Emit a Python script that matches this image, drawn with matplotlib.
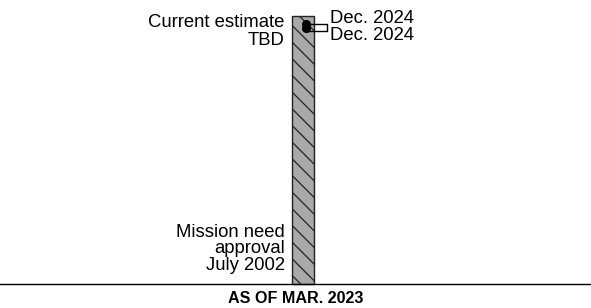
import matplotlib.pyplot as plt
import matplotlib.transforms as mtransforms

plt.rcParams['font.family'] = ['Liberation Sans', 'DejaVu Sans']
plt.rcParams['hatch.linewidth'] = 0.9

# timeline values (decimal years)
start_year = 2002.54          # mission need approval, July 2002
end_year = 2024.92            # current estimate, Dec. 2024
dot_years = [2024.92, 2024.92]
start_labels = ["Mission need", "approval", "July 2002"]
end_labels = ["Current estimate", "TBD"]
dot_labels = ["Dec. 2024", "Dec. 2024"]
title = "AS OF MAR. 2023"

W, H = 591, 308
fig = plt.figure(figsize=(W / 100, H / 100), dpi=100)
ax = fig.add_axes([0, 1 - 283.5 / H, 1, 267.5 / H])
ax.set_xlim(0, W)
ax.set_ylim(start_year, end_year)
ax.axis("off")

# bar for the schedule span
ax.bar(302.5, end_year - start_year, bottom=start_year, width=22,
       color="#a9a9a9", edgecolor="#222222", hatch="\\\\", linewidth=1.0,
       clip_on=False)

# baseline
ax.axhline(start_year, color="black", linewidth=1.0, clip_on=False)

# estimate dots (drawn slightly below the top edge)
for yr, dy in zip(dot_years, [-8, -12]):
    tr = mtransforms.offset_copy(ax.transData, fig=fig, x=3.5 * 0.72, y=dy * 0.72, units="points")
    ax.plot([302.5], [yr], "o", color="black", markersize=5.5, transform=tr, clip_on=False)

# bracket connecting dots to labels
fig.add_artist(plt.Line2D([308 / W, 327 / W, 327 / W, 308 / W],
                          [1 - 23.5 / H, 1 - 23.5 / H, 1 - 30.5 / H, 1 - 30.5 / H],
                          color="black", linewidth=1.0))


def px_text(x, y, s, **kw):
    fig.text(x / W, 1 - y / H, s, va="baseline", **kw)


for s, y in zip(dot_labels, [23, 40]):
    px_text(330, y, s, fontsize=13.3, ha="left")
for s, y in zip(end_labels, [27, 45]):
    px_text(284, y, s, fontsize=13.3, ha="right")
for s, y in zip(start_labels, [237, 253, 269.5]):
    px_text(285, y, s, fontsize=13.3, ha="right")

px_text(296, 303, title, fontsize=11.6, fontweight="bold", ha="center")

fig.savefig("out.png", dpi=100)
